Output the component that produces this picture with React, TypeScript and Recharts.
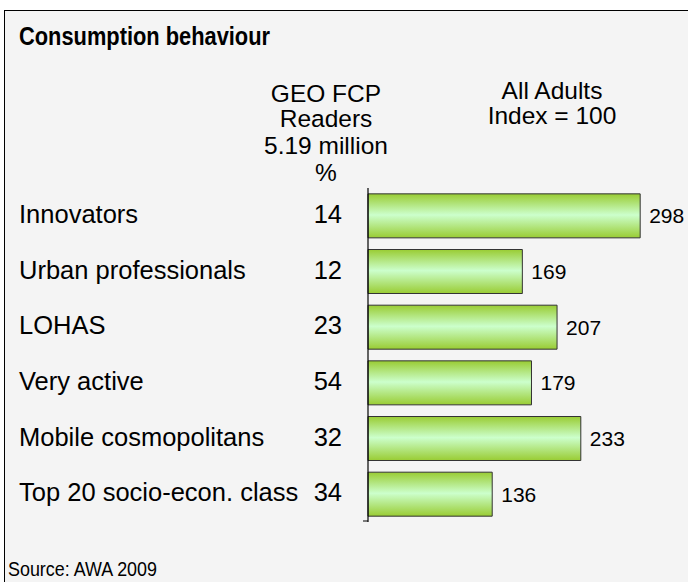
import React from 'react'
import { BarChart, Bar, XAxis, YAxis, LabelList } from 'recharts'

const segments = [
  'Innovators',
  'Urban professionals',
  'LOHAS',
  'Very active',
  'Mobile cosmopolitans',
  'Top 20 socio-econ. class',
]
const readerShare = [14, 12, 23, 54, 32, 34]
const indexValues = [298, 169, 207, 179, 233, 136]

const rows = segments.map((name, i) => ({
  name,
  share: readerShare[i],
  index: indexValues[i],
}))

const FONT = 'Arial, "Liberation Sans", Helvetica, sans-serif'

const SegmentTick = (props: any) => {
  const { x, y, payload, index } = props
  const half = payload && payload.offset ? payload.offset : 27.8
  return (
    <g>
      <text x={19} y={y + 7} fontSize={25.5} fontFamily={FONT} fill="#000" textAnchor="start">
        {payload.value}
      </text>
      <text x={342} y={y + 7} fontSize={25.5} fontFamily={FONT} fill="#000" textAnchor="end">
        {readerShare[index]}
      </text>
      {index === segments.length - 1 && (
        <line x1={x - 5} x2={x} y1={y + half - 1} y2={y + half - 1} stroke="#000" strokeWidth={1} />
      )}
    </g>
  )
}

export default function App() {
  return (
    <div style={{ position: 'relative', width: 688, height: 582, background: '#fff', overflow: 'hidden' }}>
      <style>{'body{margin:0}'}</style>
      <div
        style={{
          position: 'absolute',
          left: 4,
          top: 10,
          right: -4,
          bottom: -4,
          background: '#f4f4f4',
          borderTop: '1.5px solid #000',
          borderLeft: '1.5px solid #000',
        }}
      />

      {/* heading texts */}
      <svg width={688} height={582} style={{ position: 'absolute', left: 0, top: 0 }}>
        <text
          x={19}
          y={45}
          fontSize={25}
          fontWeight="bold"
          fontFamily={FONT}
          textLength={251}
          lengthAdjust="spacingAndGlyphs"
        >
          Consumption behaviour
        </text>
        <g fontSize={24.5} fontFamily={FONT} textAnchor="middle">
          <text x={326} y={102}>GEO FCP</text>
          <text x={326} y={127}>Readers</text>
          <text x={326} y={154}>5.19 million</text>
          <text x={326} y={181}>%</text>
          <text x={552} y={99}>All Adults</text>
          <text x={552} y={124}>Index = 100</text>
        </g>
        <text x={8} y={576} fontSize={19.5} fontFamily={FONT} textLength={149} lengthAdjust="spacingAndGlyphs">
          Source: AWA 2009
        </text>
      </svg>

      <div style={{ position: 'absolute', left: 0, top: 0 }}>
        <BarChart
          width={688}
          height={582}
          layout="vertical"
          data={rows}
          margin={{ top: 188, right: 46, bottom: 60, left: 0 }}
          barCategoryGap="10.5%"
        >
          <defs>
            <linearGradient id="barGreen" x1="0" y1="0" x2="0" y2="1">
              <stop offset="0%" stopColor="#99cc33" />
              <stop offset="48%" stopColor="#ccffcc" />
              <stop offset="100%" stopColor="#99cc33" />
            </linearGradient>
          </defs>
          <XAxis type="number" domain={[0, 300]} hide />
          <YAxis
            type="category"
            dataKey="name"
            width={368}
            axisLine={{ stroke: '#000', strokeWidth: 1.2 }}
            tickLine={false}
            tickSize={0}
            tickMargin={0}
            tick={<SegmentTick />}
            interval={0}
          />
          <Bar dataKey="index" fill="url(#barGreen)" stroke="#333" strokeWidth={1} isAnimationActive={false}>
            <LabelList
              dataKey="index"
              position="right"
              offset={9}
              fill="#000"
              fontSize={21}
              fontFamily={FONT}
            />
          </Bar>
        </BarChart>
      </div>
    </div>
  )
}
